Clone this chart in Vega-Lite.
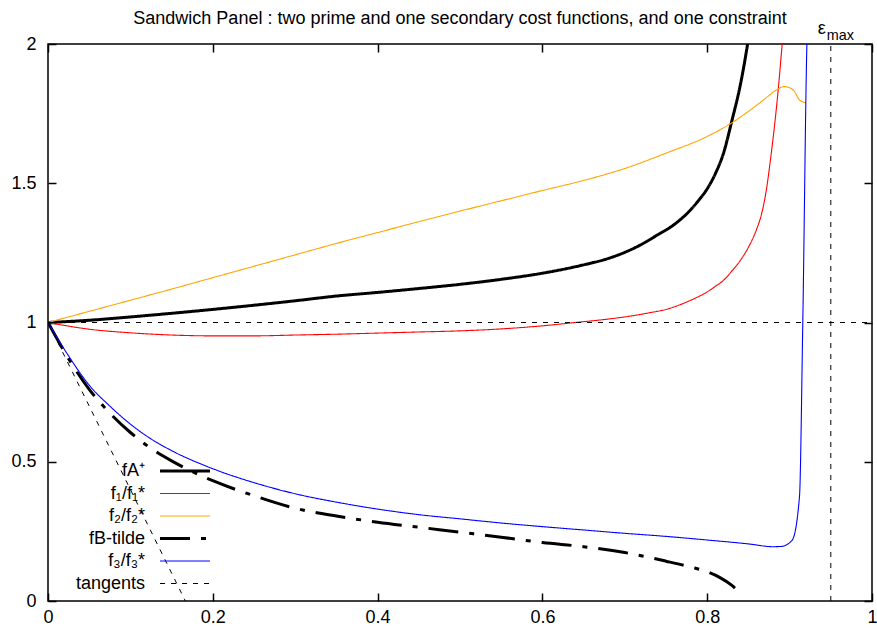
{
  "$schema": "https://vega.github.io/schema/vega-lite/v6.json",
  "width": 824,
  "height": 557,
  "autosize": {"type": "none"},
  "padding": {"left": 48, "top": 44, "right": 5, "bottom": 28},
  "background": "white",
  "title": {
    "text": "Sandwich Panel : two prime and one secondary cost functions, and one constraint",
    "font": "Liberation Sans",
    "fontSize": 18,
    "fontWeight": "normal",
    "color": "black",
    "anchor": "middle",
    "offset": -8
  },
  "config": {
    "view": {"stroke": "black", "strokeWidth": 1.5},
    "font": "Liberation Sans",
    "legend": {
      "orient": "none",
      "legendX": 108,
      "legendY": 418,
      "title": null,
      "padding": 0,
      "labelFont": "Liberation Sans",
      "labelFontSize": 18,
      "labelColor": "black",
      "labelAlign": "right",
      "labelOffset": -49,
      "labelLimit": 300,
      "symbolType": "M-5,0H5",
      "symbolSize": 100,
      "symbolOffset": 20,
      "rowPadding": 4.5
    }
  },
  "datasets": {
    "curves": [
      {"s":"fA⁺","g":"a","i":0,"x":0,"y":1},
      {"s":"fA⁺","g":"a","i":1,"x":0.05,"y":1.008},
      {"s":"fA⁺","g":"a","i":2,"x":0.1,"y":1.02},
      {"s":"fA⁺","g":"a","i":3,"x":0.15,"y":1.033},
      {"s":"fA⁺","g":"a","i":4,"x":0.2,"y":1.047},
      {"s":"fA⁺","g":"a","i":5,"x":0.25,"y":1.062},
      {"s":"fA⁺","g":"a","i":6,"x":0.3,"y":1.078},
      {"s":"fA⁺","g":"a","i":7,"x":0.35,"y":1.095},
      {"s":"fA⁺","g":"a","i":8,"x":0.4,"y":1.108},
      {"s":"fA⁺","g":"a","i":9,"x":0.45,"y":1.122},
      {"s":"fA⁺","g":"a","i":10,"x":0.5,"y":1.137},
      {"s":"fA⁺","g":"a","i":11,"x":0.55,"y":1.155},
      {"s":"fA⁺","g":"a","i":12,"x":0.6,"y":1.177},
      {"s":"fA⁺","g":"a","i":13,"x":0.65,"y":1.207},
      {"s":"fA⁺","g":"a","i":14,"x":0.68,"y":1.23},
      {"s":"fA⁺","g":"a","i":15,"x":0.7,"y":1.252},
      {"s":"fA⁺","g":"a","i":16,"x":0.72,"y":1.28},
      {"s":"fA⁺","g":"a","i":17,"x":0.74,"y":1.315},
      {"s":"fA⁺","g":"a","i":18,"x":0.76,"y":1.352},
      {"s":"fA⁺","g":"a","i":19,"x":0.78,"y":1.405},
      {"s":"fA⁺","g":"a","i":20,"x":0.79,"y":1.44},
      {"s":"fA⁺","g":"a","i":21,"x":0.8,"y":1.48},
      {"s":"fA⁺","g":"a","i":22,"x":0.81,"y":1.535},
      {"s":"fA⁺","g":"a","i":23,"x":0.82,"y":1.61},
      {"s":"fA⁺","g":"a","i":24,"x":0.83,"y":1.725},
      {"s":"fA⁺","g":"a","i":25,"x":0.84,"y":1.85},
      {"s":"fA⁺","g":"a","i":26,"x":0.849,"y":2.0},
      {"s":"fA⁺","g":"a","i":27,"x":0.853,"y":2.08},

      {"s":"f₁/f₁*","g":"r","i":0,"x":0,"y":1},
      {"s":"f₁/f₁*","g":"r","i":1,"x":0.025,"y":0.987},
      {"s":"f₁/f₁*","g":"r","i":2,"x":0.05,"y":0.976},
      {"s":"f₁/f₁*","g":"r","i":3,"x":0.1,"y":0.963},
      {"s":"f₁/f₁*","g":"r","i":4,"x":0.15,"y":0.955},
      {"s":"f₁/f₁*","g":"r","i":5,"x":0.2,"y":0.952},
      {"s":"f₁/f₁*","g":"r","i":6,"x":0.25,"y":0.952},
      {"s":"f₁/f₁*","g":"r","i":7,"x":0.3,"y":0.955},
      {"s":"f₁/f₁*","g":"r","i":8,"x":0.35,"y":0.958},
      {"s":"f₁/f₁*","g":"r","i":9,"x":0.4,"y":0.962},
      {"s":"f₁/f₁*","g":"r","i":10,"x":0.45,"y":0.966},
      {"s":"f₁/f₁*","g":"r","i":11,"x":0.5,"y":0.97},
      {"s":"f₁/f₁*","g":"r","i":12,"x":0.55,"y":0.977},
      {"s":"f₁/f₁*","g":"r","i":13,"x":0.6,"y":0.988},
      {"s":"f₁/f₁*","g":"r","i":14,"x":0.64,"y":1.0},
      {"s":"f₁/f₁*","g":"r","i":15,"x":0.67,"y":1.009},
      {"s":"f₁/f₁*","g":"r","i":16,"x":0.7,"y":1.02},
      {"s":"f₁/f₁*","g":"r","i":17,"x":0.73,"y":1.035},
      {"s":"f₁/f₁*","g":"r","i":18,"x":0.75,"y":1.047},
      {"s":"f₁/f₁*","g":"r","i":19,"x":0.78,"y":1.08},
      {"s":"f₁/f₁*","g":"r","i":20,"x":0.8,"y":1.11},
      {"s":"f₁/f₁*","g":"r","i":21,"x":0.81,"y":1.13},
      {"s":"f₁/f₁*","g":"r","i":22,"x":0.82,"y":1.152},
      {"s":"f₁/f₁*","g":"r","i":23,"x":0.83,"y":1.185},
      {"s":"f₁/f₁*","g":"r","i":24,"x":0.84,"y":1.222},
      {"s":"f₁/f₁*","g":"r","i":25,"x":0.85,"y":1.27},
      {"s":"f₁/f₁*","g":"r","i":26,"x":0.86,"y":1.335},
      {"s":"f₁/f₁*","g":"r","i":27,"x":0.866,"y":1.39},
      {"s":"f₁/f₁*","g":"r","i":28,"x":0.872,"y":1.48},
      {"s":"f₁/f₁*","g":"r","i":29,"x":0.877,"y":1.59},
      {"s":"f₁/f₁*","g":"r","i":30,"x":0.882,"y":1.715},
      {"s":"f₁/f₁*","g":"r","i":31,"x":0.886,"y":1.83},
      {"s":"f₁/f₁*","g":"r","i":32,"x":0.891,"y":2.0},
      {"s":"f₁/f₁*","g":"r","i":33,"x":0.894,"y":2.1},

      {"s":"f₂/f₂*","g":"o","i":0,"x":0,"y":1},
      {"s":"f₂/f₂*","g":"o","i":1,"x":0.05,"y":1.04},
      {"s":"f₂/f₂*","g":"o","i":2,"x":0.1,"y":1.08},
      {"s":"f₂/f₂*","g":"o","i":3,"x":0.15,"y":1.12},
      {"s":"f₂/f₂*","g":"o","i":4,"x":0.2,"y":1.161},
      {"s":"f₂/f₂*","g":"o","i":5,"x":0.25,"y":1.202},
      {"s":"f₂/f₂*","g":"o","i":6,"x":0.3,"y":1.243},
      {"s":"f₂/f₂*","g":"o","i":7,"x":0.35,"y":1.284},
      {"s":"f₂/f₂*","g":"o","i":8,"x":0.4,"y":1.323},
      {"s":"f₂/f₂*","g":"o","i":9,"x":0.45,"y":1.362},
      {"s":"f₂/f₂*","g":"o","i":10,"x":0.5,"y":1.4},
      {"s":"f₂/f₂*","g":"o","i":11,"x":0.55,"y":1.437},
      {"s":"f₂/f₂*","g":"o","i":12,"x":0.6,"y":1.474},
      {"s":"f₂/f₂*","g":"o","i":13,"x":0.65,"y":1.51},
      {"s":"f₂/f₂*","g":"o","i":14,"x":0.7,"y":1.553},
      {"s":"f₂/f₂*","g":"o","i":15,"x":0.75,"y":1.608},
      {"s":"f₂/f₂*","g":"o","i":16,"x":0.8,"y":1.668},
      {"s":"f₂/f₂*","g":"o","i":17,"x":0.83,"y":1.717},
      {"s":"f₂/f₂*","g":"o","i":18,"x":0.85,"y":1.758},
      {"s":"f₂/f₂*","g":"o","i":19,"x":0.87,"y":1.803},
      {"s":"f₂/f₂*","g":"o","i":20,"x":0.884,"y":1.835},
      {"s":"f₂/f₂*","g":"o","i":21,"x":0.893,"y":1.847},
      {"s":"f₂/f₂*","g":"o","i":22,"x":0.9,"y":1.843},
      {"s":"f₂/f₂*","g":"o","i":23,"x":0.906,"y":1.829},
      {"s":"f₂/f₂*","g":"o","i":24,"x":0.912,"y":1.799},
      {"s":"f₂/f₂*","g":"o","i":25,"x":0.92,"y":1.789},

      {"s":"fB-tilde","g":"b","i":0,"x":0,"y":1},
      {"s":"fB-tilde","g":"b","i":1,"x":0.025,"y":0.87},
      {"s":"fB-tilde","g":"b","i":2,"x":0.05,"y":0.76},
      {"s":"fB-tilde","g":"b","i":3,"x":0.075,"y":0.675},
      {"s":"fB-tilde","g":"b","i":4,"x":0.1,"y":0.605},
      {"s":"fB-tilde","g":"b","i":5,"x":0.125,"y":0.548},
      {"s":"fB-tilde","g":"b","i":6,"x":0.15,"y":0.503},
      {"s":"fB-tilde","g":"b","i":7,"x":0.175,"y":0.465},
      {"s":"fB-tilde","g":"b","i":8,"x":0.2,"y":0.432},
      {"s":"fB-tilde","g":"b","i":9,"x":0.25,"y":0.378},
      {"s":"fB-tilde","g":"b","i":10,"x":0.3,"y":0.333},
      {"s":"fB-tilde","g":"b","i":11,"x":0.35,"y":0.305},
      {"s":"fB-tilde","g":"b","i":12,"x":0.4,"y":0.283},
      {"s":"fB-tilde","g":"b","i":13,"x":0.45,"y":0.265},
      {"s":"fB-tilde","g":"b","i":14,"x":0.5,"y":0.247},
      {"s":"fB-tilde","g":"b","i":15,"x":0.55,"y":0.229},
      {"s":"fB-tilde","g":"b","i":16,"x":0.6,"y":0.21},
      {"s":"fB-tilde","g":"b","i":17,"x":0.65,"y":0.195},
      {"s":"fB-tilde","g":"b","i":18,"x":0.7,"y":0.174},
      {"s":"fB-tilde","g":"b","i":19,"x":0.75,"y":0.143},
      {"s":"fB-tilde","g":"b","i":20,"x":0.78,"y":0.122},
      {"s":"fB-tilde","g":"b","i":21,"x":0.8,"y":0.105},
      {"s":"fB-tilde","g":"b","i":22,"x":0.815,"y":0.085},
      {"s":"fB-tilde","g":"b","i":23,"x":0.83,"y":0.056},
      {"s":"fB-tilde","g":"b","i":24,"x":0.84,"y":0.028},

      {"s":"f₃/f₃*","g":"u","i":0,"x":0,"y":1},
      {"s":"f₃/f₃*","g":"u","i":1,"x":0.025,"y":0.88},
      {"s":"f₃/f₃*","g":"u","i":2,"x":0.05,"y":0.775},
      {"s":"f₃/f₃*","g":"u","i":3,"x":0.075,"y":0.7},
      {"s":"f₃/f₃*","g":"u","i":4,"x":0.1,"y":0.635},
      {"s":"f₃/f₃*","g":"u","i":5,"x":0.125,"y":0.582},
      {"s":"f₃/f₃*","g":"u","i":6,"x":0.15,"y":0.54},
      {"s":"f₃/f₃*","g":"u","i":7,"x":0.2,"y":0.475},
      {"s":"f₃/f₃*","g":"u","i":8,"x":0.25,"y":0.425},
      {"s":"f₃/f₃*","g":"u","i":9,"x":0.3,"y":0.385},
      {"s":"f₃/f₃*","g":"u","i":10,"x":0.35,"y":0.355},
      {"s":"f₃/f₃*","g":"u","i":11,"x":0.4,"y":0.33},
      {"s":"f₃/f₃*","g":"u","i":12,"x":0.45,"y":0.31},
      {"s":"f₃/f₃*","g":"u","i":13,"x":0.5,"y":0.295},
      {"s":"f₃/f₃*","g":"u","i":14,"x":0.55,"y":0.28},
      {"s":"f₃/f₃*","g":"u","i":15,"x":0.6,"y":0.267},
      {"s":"f₃/f₃*","g":"u","i":16,"x":0.65,"y":0.255},
      {"s":"f₃/f₃*","g":"u","i":17,"x":0.7,"y":0.243},
      {"s":"f₃/f₃*","g":"u","i":18,"x":0.75,"y":0.232},
      {"s":"f₃/f₃*","g":"u","i":19,"x":0.8,"y":0.219},
      {"s":"f₃/f₃*","g":"u","i":20,"x":0.85,"y":0.205},
      {"s":"f₃/f₃*","g":"u","i":21,"x":0.88,"y":0.195},
      {"s":"f₃/f₃*","g":"u","i":22,"x":0.89,"y":0.196},
      {"s":"f₃/f₃*","g":"u","i":23,"x":0.903,"y":0.218},
      {"s":"f₃/f₃*","g":"u","i":24,"x":0.912,"y":0.375},
      {"s":"f₃/f₃*","g":"u","i":25,"x":0.916,"y":1.0},
      {"s":"f₃/f₃*","g":"u","i":26,"x":0.921,"y":2.0},
      {"s":"f₃/f₃*","g":"u","i":27,"x":0.922,"y":2.1},

      {"s":"tangents","g":"t1","i":0,"x":0,"y":1},
      {"s":"tangents","g":"t1","i":1,"x":1,"y":1},
      {"s":"tangents","g":"t2","i":0,"x":0,"y":1},
      {"s":"tangents","g":"t2","i":1,"x":0.1667,"y":0},
      {"s":"tangents","g":"t3","i":0,"x":0.95,"y":0},
      {"s":"tangents","g":"t3","i":1,"x":0.95,"y":2}
    ],
    "eps": [{"x": 0.95, "y": 2}]
  },
  "layer": [
    {
      "data": {"name": "curves"},
      "mark": {"type": "line", "clip": true, "strokeCap": "butt", "interpolate": "monotone"},
      "encoding": {
        "x": {
          "field": "x", "type": "quantitative",
          "scale": {"domain": [0, 1], "nice": false, "zero": false},
          "axis": {
            "orient": "bottom", "values": [0, 0.2, 0.4, 0.6, 0.8, 1], "format": "~g",
            "tickSize": -8, "labelPadding": 15, "labelFontSize": 18, "labelFont": "Liberation Sans",
            "labelColor": "black", "tickColor": "black", "tickWidth": 1.5, "domain": false, "grid": false,
            "title": null, "labelFlush": false, "labelOverlap": false
          }
        },
        "y": {
          "field": "y", "type": "quantitative",
          "scale": {"domain": [0, 2], "nice": false, "zero": false},
          "axis": {
            "orient": "left", "values": [0, 0.5, 1, 1.5, 2], "format": "~g",
            "tickSize": -8, "labelPadding": 20, "labelFontSize": 18, "labelFont": "Liberation Sans",
            "labelColor": "black", "tickColor": "black", "tickWidth": 1.5, "domain": false, "grid": false,
            "title": null, "labelFlush": false, "labelOverlap": false
          }
        },
        "color": {
          "field": "s", "type": "nominal",
          "scale": {
            "domain": ["fA⁺", "f₁/f₁*", "f₂/f₂*", "fB-tilde", "f₃/f₃*", "tangents"],
            "range": ["#000000", "#ff0000", "#ffa500", "#000000", "#0000ff", "#000000"]
          },
          "legend": {"orient": "none", "legendX": 108, "legendY": 418, "title": null}
        },
        "strokeDash": {
          "field": "s", "type": "nominal",
          "scale": {
            "domain": ["fA⁺", "f₁/f₁*", "f₂/f₂*", "fB-tilde", "f₃/f₃*", "tangents"],
            "range": [[1, 0], [1, 0], [1, 0], [30, 11, 5, 11], [1, 0], [5, 6]]
          }
        },
        "strokeWidth": {
          "field": "s", "type": "nominal",
          "scale": {
            "type": "ordinal",
            "domain": ["fA⁺", "f₁/f₁*", "f₂/f₂*", "fB-tilde", "f₃/f₃*", "tangents"],
            "range": [3, 1.1, 1.1, 3, 1.1, 1]
          }
        },
        "detail": {"field": "g", "type": "nominal"},
        "order": {"field": "i", "type": "quantitative"}
      }
    },
    {
      "data": {"name": "eps"},
      "mark": {"type": "text", "text": "ε", "font": "Liberation Sans", "fontSize": 18, "align": "right", "baseline": "alphabetic", "dx": -5, "dy": -10, "color": "black"},
      "encoding": {
        "x": {
          "field": "x", "type": "quantitative",
          "axis": {"orient": "top", "values": [0, 0.2, 0.4, 0.6, 0.8, 1], "labels": false, "tickSize": -8, "tickColor": "black", "tickWidth": 1.5, "domain": false, "grid": false, "title": null}
        },
        "y": {
          "field": "y", "type": "quantitative",
          "axis": {"orient": "right", "values": [0, 0.5, 1, 1.5, 2], "labels": false, "tickSize": -8, "tickColor": "black", "tickWidth": 1.5, "domain": false, "grid": false, "title": null}
        }
      }
    },
    {
      "data": {"name": "eps"},
      "mark": {"type": "text", "text": "max", "font": "Liberation Sans", "fontSize": 14.4, "align": "left", "baseline": "alphabetic", "dx": -4, "dy": -4, "color": "black"},
      "encoding": {
        "x": {"field": "x", "type": "quantitative", "axis": null},
        "y": {"field": "y", "type": "quantitative", "axis": null}
      }
    }
  ],
  "resolve": {"axis": {"x": "independent", "y": "independent"}}
}
